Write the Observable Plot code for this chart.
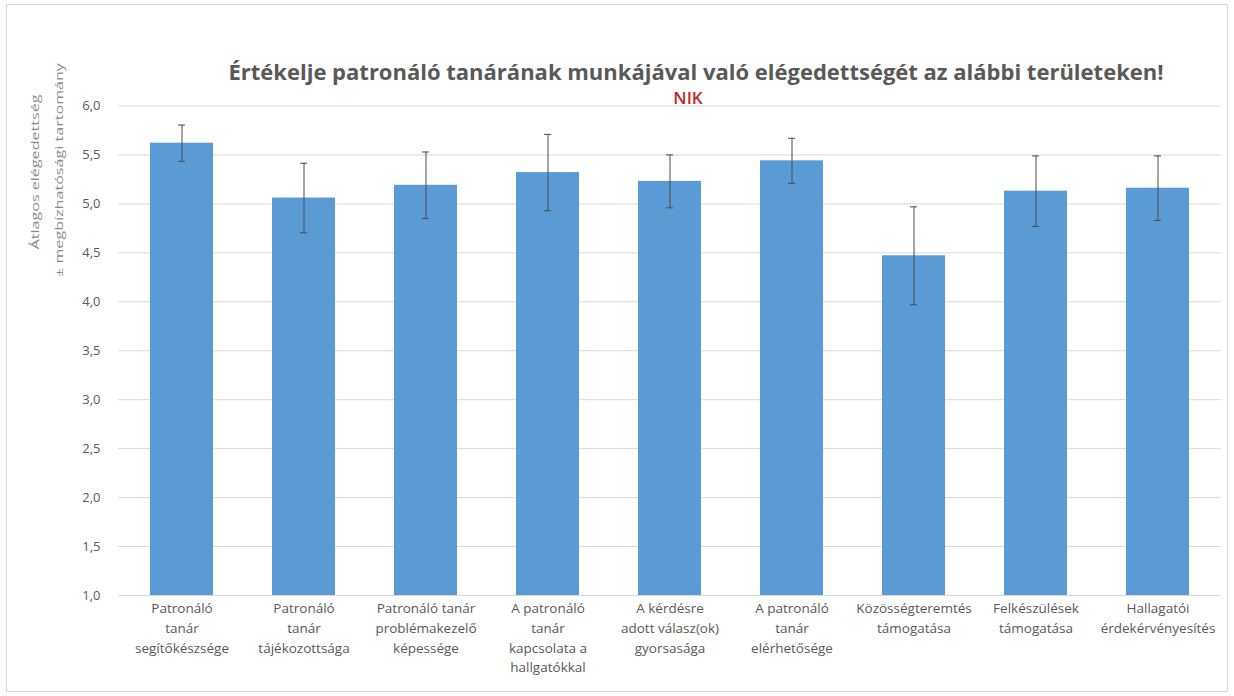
<!DOCTYPE html>
<html><head><meta charset="utf-8">
<script src="https://cdn.jsdelivr.net/npm/d3@7"></script>
<script src="https://cdn.jsdelivr.net/npm/@observablehq/plot@0.6"></script>
<style>
body{margin:0;background:#fff;font-family:"Open Sans",sans-serif;}
#wrap{position:relative;width:1234px;height:696px;overflow:hidden;background:#fff;}
#frame{position:absolute;left:6px;top:4px;width:1222px;height:688px;border:1px solid #d9d9d9;box-sizing:border-box;}
.abs{position:absolute;white-space:nowrap;transform:translate(-50%,-50%);}
#title{left:696px;top:71px;font-size:22px;font-weight:700;color:#595959;}
#sub{left:688px;top:97px;font-size:17px;font-weight:600;color:#c0272d;}
.ylab{font-size:11.5px;color:#8a8a8a;transform:translate(-50%,-50%) rotate(-90deg) scaleX(1.4);}
#chart{position:absolute;left:0;top:0;}
</style></head>
<body><div id="wrap"><div id="frame"></div><div id="chart"></div>
<div id="title" class="abs"></div><div id="sub" class="abs"></div>
<div id="yl1" class="abs ylab" style="left:34px;top:172px"></div>
<div id="yl2" class="abs ylab" style="left:58px;top:170px"></div>
</div>
<script>
const titleText = "Értékelje patronáló tanárának munkájával való elégedettségét az alábbi területeken!";
const subtitleText = "NIK";
const yLabelLines = ["Átlagos elégedettség", "± megbízhatósági tartomány"];
const categories = [
  "Patronáló\ntanár\nsegítőkészsége",
  "Patronáló\ntanár\ntájékozottsága",
  "Patronáló tanár\nproblémakezelő\nképessége",
  "A patronáló\ntanár\nkapcsolata a\nhallgatókkal",
  "A kérdésre\nadott válasz(ok)\ngyorsasága",
  "A patronáló\ntanár\nelérhetősége",
  "Közösségteremtés\ntámogatása",
  "Felkészülések\ntámogatása",
  "Hallagatói\nérdekérvényesítés"
];
const means = [5.62, 5.06, 5.19, 5.32, 5.23, 5.44, 4.47, 5.13, 5.16];
const errors = [0.185, 0.355, 0.34, 0.39, 0.27, 0.23, 0.50, 0.36, 0.33];
const yDomain = [1, 6];
const yTicks = [1, 1.5, 2, 2.5, 3, 3.5, 4, 4.5, 5, 5.5, 6];

document.getElementById("title").textContent = titleText;
document.getElementById("sub").textContent = subtitleText;
document.getElementById("yl1").textContent = yLabelLines[0];
document.getElementById("yl2").textContent = yLabelLines[1];

const data = categories.map((c, i) => ({cat: c, mean: means[i], err: errors[i]}));
const ink = "#595959";

const chart = Plot.plot({
  width: 1234, height: 696,
  marginLeft: 118, marginRight: 13, marginTop: 105.5, marginBottom: 101,
  style: {fontFamily: "Open Sans, sans-serif", background: "transparent", color: ink},
  x: {domain: categories, paddingInner: 0.48, paddingOuter: 0.24},
  y: {domain: yDomain},
  marks: [
    Plot.gridY(yTicks, {stroke: "#d9d9d9", strokeOpacity: 1, strokeWidth: 1}),
    Plot.barY(data, {x: "cat", y1: () => yDomain[0], y2: "mean", fill: "#5b9bd5"}),
    Plot.ruleX(data, {x: "cat", y1: d => d.mean - d.err, y2: d => d.mean + d.err, stroke: "#4a4a4a", strokeWidth: 1}),
    Plot.tickY(data, {x: "cat", y: d => d.mean + d.err, insetLeft: 28, insetRight: 28, stroke: "#4a4a4a"}),
    Plot.tickY(data, {x: "cat", y: d => d.mean - d.err, insetLeft: 28, insetRight: 28, stroke: "#4a4a4a"}),
    Plot.axisY(yTicks, {tickSize: 0, tickPadding: 18, fontSize: 13, fill: ink, label: null,
      tickFormat: d => d.toFixed(1).replace(".", ",")}),
    Plot.axisX({tickSize: 0, tickPadding: 4, fontSize: 13.5, lineHeight: 1.45, fill: ink, label: null})
  ]
});
document.getElementById("chart").appendChild(chart);
</script></body></html>
